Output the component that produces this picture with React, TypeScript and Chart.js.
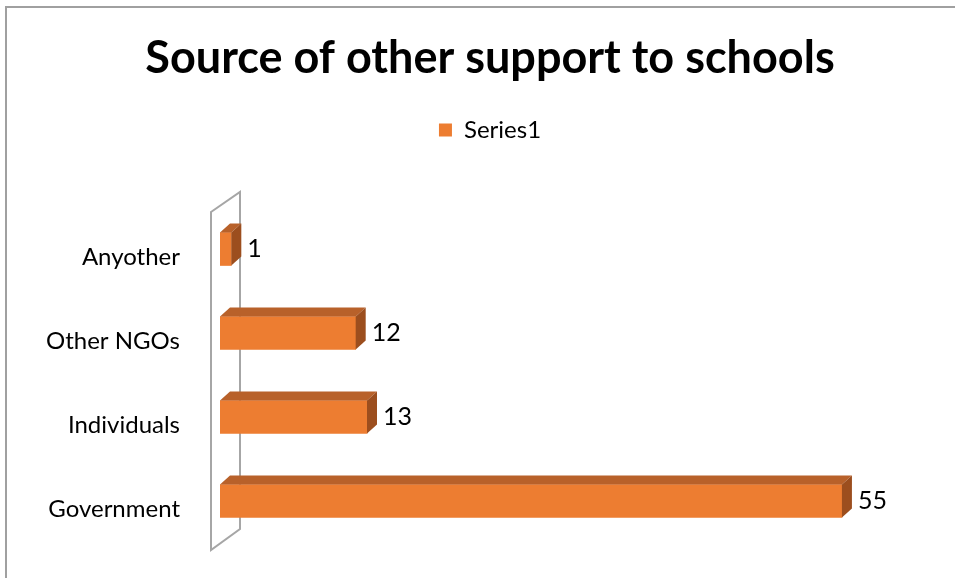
import React, { useEffect, useRef } from "react";
import { Chart, registerables } from "chart.js";

Chart.register(...registerables);

const TITLE = "Source of other support to schools";
const SERIES_NAME = "Series1";
const CATEGORIES = ["Anyother", "Other NGOs", "Individuals", "Government"];
const VALUES = [1, 12, 13, 55];
const X_MIN = 0;
const X_MAX = 65;

const FONT = "Lato, 'Open Sans', sans-serif";
const FRONT = "#ED7D31";
const TOP = "#B8612A";
const SIDE = "#9C4E1E";
const DX = 10;
const DY = 9;

const frame = {
  id: "frame",
  beforeDraw(chart: any) {
    const ctx = chart.ctx;
    ctx.save();
    ctx.fillStyle = "#ffffff";
    ctx.fillRect(0, 0, chart.width, chart.height);
    ctx.strokeStyle = "#A0A0A0";
    ctx.lineWidth = 2;
    ctx.strokeRect(6, 7, chart.width + 20, chart.height + 20);
    ctx.restore();
  },
  beforeDatasetsDraw(chart: any) {
    const { ctx, chartArea } = chart;
    const l = chartArea.left - 9;
    const t = chartArea.top + 5;
    const b = chartArea.bottom + 7;
    ctx.save();
    ctx.strokeStyle = "#A6A6A6";
    ctx.lineWidth = 2;
    ctx.beginPath();
    ctx.moveTo(l, t);
    ctx.lineTo(l + 29, t - 20);
    ctx.lineTo(l + 29, b - 21);
    ctx.lineTo(l, b);
    ctx.closePath();
    ctx.stroke();
    ctx.restore();
  },
  afterDatasetsDraw(chart: any) {
    const { ctx } = chart;
    const meta = chart.getDatasetMeta(0);
    ctx.save();
    meta.data.forEach((el: any, i: number) => {
      const { x, y, base, height } = el.getProps(["x", "y", "base", "height"], true);
      const top = y - height / 2;
      const bottom = y + height / 2;
      ctx.fillStyle = TOP;
      ctx.beginPath();
      ctx.moveTo(base, top);
      ctx.lineTo(base + DX, top - DY);
      ctx.lineTo(x + DX, top - DY);
      ctx.lineTo(x, top);
      ctx.closePath();
      ctx.fill();
      ctx.fillStyle = SIDE;
      ctx.beginPath();
      ctx.moveTo(x, top);
      ctx.lineTo(x + DX, top - DY);
      ctx.lineTo(x + DX, bottom - DY);
      ctx.lineTo(x, bottom);
      ctx.closePath();
      ctx.fill();
      ctx.fillStyle = "#000000";
      ctx.font = `25px ${FONT}`;
      ctx.textAlign = "left";
      ctx.textBaseline = "middle";
      ctx.fillText(String(VALUES[i]), x + DX + 6, y);
    });
    ctx.restore();
  },
};

export default function App() {
  const ref = useRef<HTMLCanvasElement>(null);
  useEffect(() => {
    if (!ref.current) return;
    const chart = new Chart(ref.current, {
      type: "bar",
      data: {
        labels: CATEGORIES,
        datasets: [
          {
            label: SERIES_NAME,
            data: VALUES,
            backgroundColor: FRONT,
            borderWidth: 0,
            barThickness: 33,
          },
        ],
      },
      options: {
        indexAxis: "y",
        animation: false,
        responsive: false,
        layout: { padding: { left: 25, right: 0, top: 0, bottom: 35 } },
        scales: {
          x: {
            position: "top",
            min: X_MIN,
            max: X_MAX,
            display: true,
            grid: { display: false, drawTicks: false },
            border: { display: false },
            ticks: { display: false },
            afterFit: (s: any) => {
              s.height = 55;
            },
          },
          y: {
            grid: { display: false, drawTicks: false },
            border: { display: false },
            ticks: {
              color: "#000000",
              font: { family: FONT, size: 24 },
              padding: 40,
              labelOffset: 8,
            },
            afterFit: (s: any) => {
              s.width = 195;
              s.paddingTop = 0;
              s.paddingBottom = 0;
            },
          },
        },
        plugins: {
          title: {
            display: true,
            text: TITLE,
            color: "#000000",
            font: { family: FONT, size: 45, weight: "bold" },
            padding: { top: 31, bottom: 23 },
          },
          legend: {
            display: true,
            position: "top",
            labels: {
              color: "#000000",
              font: { family: FONT, size: 24 },
              boxWidth: 13,
              boxHeight: 13,
              padding: 10,
            },
          },
          tooltip: { enabled: false },
        },
      },
      plugins: [frame],
    });
    return () => chart.destroy();
  }, []);
  return (
    <div style={{ position: "fixed", left: 0, top: 0, width: 955, height: 578 }}>
      <canvas ref={ref} width={955} height={578} />
    </div>
  );
}
